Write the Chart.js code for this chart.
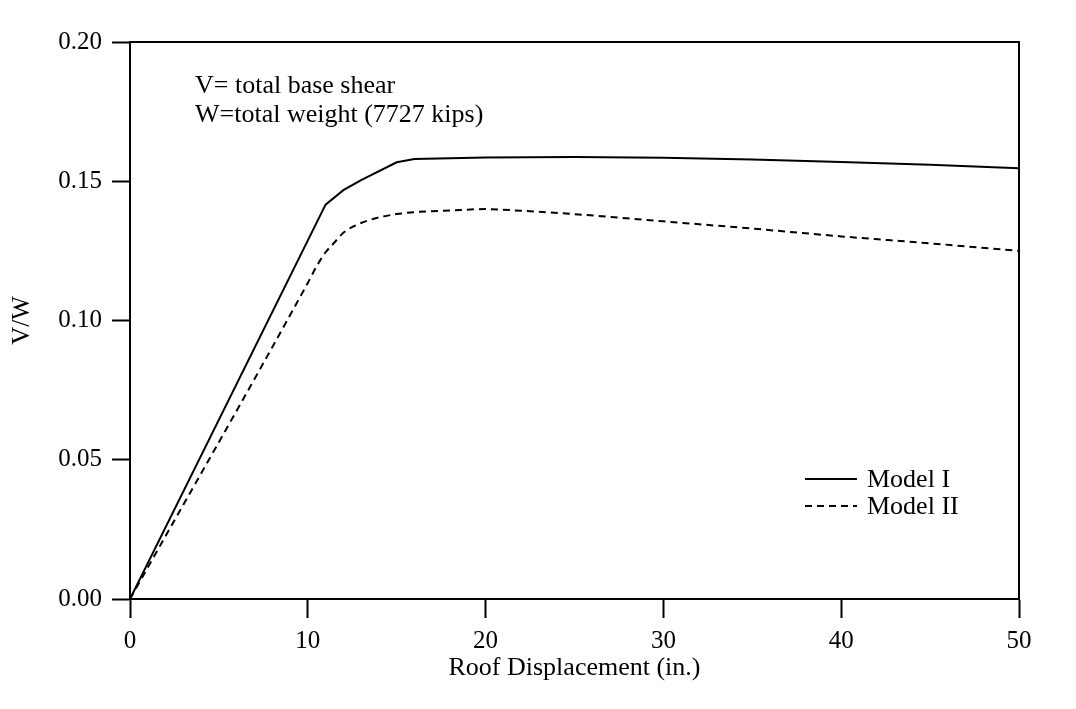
<!DOCTYPE html>
<html>
<head>
<meta charset="utf-8">
<title>V/W vs Roof Displacement</title>
<script src="https://cdn.jsdelivr.net/npm/chart.js@4.4.1/dist/chart.umd.min.js"></script>
<style>
  html, body { margin: 0; padding: 0; background: #fff; }
  #wrap { width: 1076px; height: 709px; }
</style>
</head>
<body>
<div id="wrap"><canvas id="pushoverChart"></canvas></div>
<script>
// Values: roof displacement (in.) against V/W
const model1X = [0, 11, 12, 13, 15, 16, 20, 25, 30, 35, 40, 45, 50];
const model1Y = [0, 0.1416, 0.1468, 0.1504, 0.1568, 0.1580, 0.1585, 0.1587, 0.1584, 0.1578, 0.1569, 0.1559, 0.1547];

const model2X = [0, 10, 10.5, 11, 11.5, 12, 13, 14, 15, 16, 18, 20, 22, 25, 30, 35, 40, 45, 50];
const model2Y = [0, 0.1135, 0.1195, 0.1245, 0.1280, 0.1315, 0.1350, 0.1370, 0.1382, 0.1389, 0.1395, 0.1400, 0.1394, 0.1382, 0.1356, 0.1330, 0.1302, 0.1277, 0.1250];

const xTicks = [0, 10, 20, 30, 40, 50];
const yTicks = ['0.00', '0.05', '0.10', '0.15', '0.20'];
const noteLines = ['V= total base shear', 'W=total weight (7727 kips)'];

const FONT = '"Liberation Serif", "Times New Roman", serif';

function toPoints(xs, ys) {
  return xs.map((x, i) => ({ x: x, y: ys[i] }));
}

// closed box round the plot area
const framePlugin = {
  id: 'frame',
  afterDatasetsDraw(chart) {
    const { ctx, chartArea: a } = chart;
    ctx.save();
    ctx.strokeStyle = '#000';
    ctx.lineWidth = 2;
    ctx.strokeRect(a.left, a.top, a.right - a.left, a.bottom - a.top);
    ctx.restore();
  }
};

// the two text lines in the upper left
const notePlugin = {
  id: 'note',
  afterDraw(chart) {
    const { ctx, chartArea: a } = chart;
    ctx.save();
    ctx.fillStyle = '#000';
    ctx.font = '26px ' + FONT;
    ctx.textBaseline = 'alphabetic';
    noteLines.forEach((t, i) => ctx.fillText(t, a.left + 65, a.top + 51 + i * 29));
    ctx.restore();
  }
};

// legend inside the plot, bottom right
const legendPlugin = {
  id: 'innerLegend',
  afterDraw(chart) {
    const { ctx, chartArea: a } = chart;
    ctx.save();
    ctx.font = '26px ' + FONT;
    ctx.fillStyle = '#000';
    chart.data.datasets.forEach((ds, i) => {
      const y = a.bottom - 120 + i * 27;
      ctx.strokeStyle = ds.borderColor;
      ctx.lineWidth = 2;
      ctx.setLineDash(ds.borderDash || []);
      ctx.beginPath();
      ctx.moveTo(a.right - 214, y);
      ctx.lineTo(a.right - 162, y);
      ctx.stroke();
      ctx.setLineDash([]);
      ctx.fillText(ds.label, a.right - 152, y + 8);
    });
    ctx.restore();
  }
};

new Chart(document.getElementById('pushoverChart'), {
  type: 'line',
  data: {
    datasets: [
      {
        label: 'Model I',
        data: toPoints(model1X, model1Y),
        borderColor: '#000',
        borderWidth: 2,
        pointRadius: 0,
        tension: 0
      },
      {
        label: 'Model II',
        data: toPoints(model2X, model2Y),
        borderColor: '#000',
        borderWidth: 2,
        borderDash: [7, 5],
        pointRadius: 0,
        cubicInterpolationMode: 'monotone'
      }
    ]
  },
  options: {
    responsive: true,
    maintainAspectRatio: false,
    animation: false,
    layout: { padding: { left: 0, top: 42, right: 57, bottom: 0 } },
    plugins: {
      legend: { display: false },
      tooltip: { enabled: false }
    },
    scales: {
      x: {
        type: 'linear',
        min: 0,
        max: 50,
        afterBuildTicks: (scale) => { scale.ticks = xTicks.map(v => ({ value: v })); },
        afterFit: (scale) => { scale.height = 110; },
        border: { display: true, color: '#000', width: 2 },
        grid: { drawOnChartArea: false, drawTicks: true, tickLength: 19, tickWidth: 2, tickColor: '#000' },
        ticks: {
          color: '#000',
          font: { family: FONT, size: 25 },
          padding: 8,
          maxRotation: 0,
          callback: (v) => String(v)
        },
        title: {
          display: true,
          text: 'Roof Displacement (in.)',
          color: '#000',
          font: { family: FONT, size: 26 },
          padding: { top: 0, bottom: 25 }
        }
      },
      y: {
        type: 'linear',
        min: 0,
        max: 0.2,
        afterBuildTicks: (scale) => { scale.ticks = yTicks.map(t => ({ value: parseFloat(t) })); },
        afterFit: (scale) => { scale.width = 130; },
        border: { display: true, color: '#000', width: 2 },
        grid: { drawOnChartArea: false, drawTicks: true, tickLength: 18, tickWidth: 2, tickColor: '#000' },
        ticks: {
          color: '#000',
          font: { family: FONT, size: 25 },
          padding: 10,
          callback: (v, i) => yTicks[i]
        },
        title: {
          display: true,
          text: 'V/W',
          color: '#000',
          font: { family: FONT, size: 25 },
          padding: { top: 7, bottom: 0 }
        }
      }
    }
  },
  plugins: [framePlugin, notePlugin, legendPlugin]
});
</script>
</body>
</html>
